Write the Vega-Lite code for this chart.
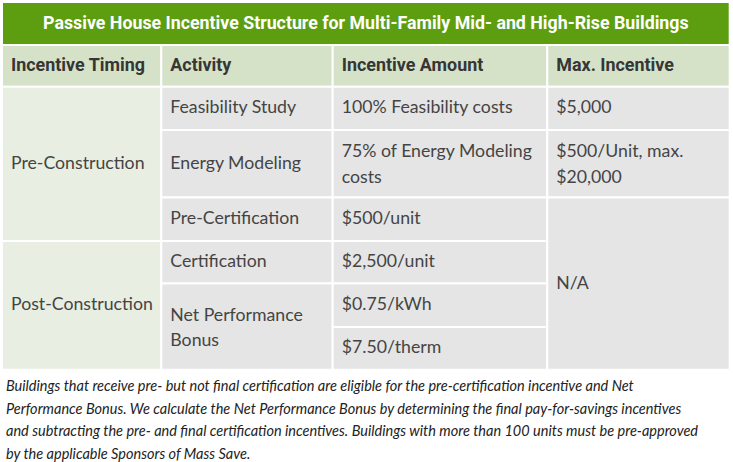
{
  "$schema": "https://vega.github.io/schema/vega-lite/v6.json",
  "width": 733,
  "height": 462,
  "autosize": {"type": "none"},
  "padding": 0,
  "background": "white",
  "config": {"view": {"stroke": null}},
  "datasets": {
    "cells": [
      {"kind": "title", "label": "Passive House Incentive Structure for Multi-Family Mid- and High-Rise Buildings", "c0": 0, "c1": 4, "r0": 0, "r1": 1},
      {"kind": "header", "label": "Incentive Timing", "c0": 0, "c1": 1, "r0": 1, "r1": 2},
      {"kind": "header", "label": "Activity", "c0": 1, "c1": 2, "r0": 1, "r1": 2},
      {"kind": "header", "label": "Incentive Amount", "c0": 2, "c1": 3, "r0": 1, "r1": 2},
      {"kind": "header", "label": "Max. Incentive", "c0": 3, "c1": 4, "r0": 1, "r1": 2},
      {"kind": "timing", "label": "Pre-Construction", "c0": 0, "c1": 1, "r0": 2, "r1": 5},
      {"kind": "timing", "label": "Post-Construction", "c0": 0, "c1": 1, "r0": 5, "r1": 8},
      {"kind": "body", "label": "Feasibility Study", "c0": 1, "c1": 2, "r0": 2, "r1": 3},
      {"kind": "body", "label": "Energy Modeling", "c0": 1, "c1": 2, "r0": 3, "r1": 4},
      {"kind": "body", "label": "Pre-Certification", "c0": 1, "c1": 2, "r0": 4, "r1": 5},
      {"kind": "body", "label": "Certification", "c0": 1, "c1": 2, "r0": 5, "r1": 6},
      {"kind": "body", "label": "Net Performance\nBonus", "c0": 1, "c1": 2, "r0": 6, "r1": 8},
      {"kind": "body", "label": "100% Feasibility costs", "c0": 2, "c1": 3, "r0": 2, "r1": 3},
      {"kind": "body", "label": "75% of Energy Modeling\ncosts", "c0": 2, "c1": 3, "r0": 3, "r1": 4},
      {"kind": "body", "label": "$500/unit", "c0": 2, "c1": 3, "r0": 4, "r1": 5},
      {"kind": "body", "label": "$2,500/unit", "c0": 2, "c1": 3, "r0": 5, "r1": 6},
      {"kind": "body", "label": "$0.75/kWh", "c0": 2, "c1": 3, "r0": 6, "r1": 7},
      {"kind": "body", "label": "$7.50/therm", "c0": 2, "c1": 3, "r0": 7, "r1": 8},
      {"kind": "body", "label": "$5,000", "c0": 3, "c1": 4, "r0": 2, "r1": 3},
      {"kind": "body", "label": "$500/Unit, max.\n$20,000", "c0": 3, "c1": 4, "r0": 3, "r1": 4},
      {"kind": "body", "label": "N/A", "c0": 3, "c1": 4, "r0": 4, "r1": 8}
    ],
    "note": [
      {"label": "Buildings that receive pre- but not final certification are eligible for the pre-certification incentive and Net\nPerformance Bonus. We calculate the Net Performance Bonus by determining the final pay-for-savings incentives\nand subtracting the pre- and final certification incentives. Buildings with more than 100 units must be pre-approved\nby the applicable Sponsors of Mass Save.", "c0": 0, "r0": 8}
    ]
  },
  "layer": [
    {
      "data": {"name": "cells"},
      "transform": [{"filter": "datum.kind === 'title'"}],
      "mark": {"type": "rect", "stroke": "white", "strokeWidth": 2},
      "encoding": {
        "x": {"field": "c0", "type": "quantitative", "axis": null, "scale": {"domain": [0, 4], "range": [2, 729.7], "nice": false, "zero": false}},
        "x2": {"field": "c1"},
        "y": {"field": "r0", "type": "quantitative", "axis": null, "scale": {"domain": [0, 1, 2, 3, 4, 5, 6, 7, 8, 9], "range": [2, 45, 86.7, 130, 197.5, 241, 283.5, 327, 369.7, 462], "nice": false, "zero": false}},
        "y2": {"field": "r1"},
        "fill": {"value": "#5c9e10"}
      }
    },
    {
      "data": {"name": "cells"},
      "transform": [
        {"filter": "datum.kind === 'title'"},
        {"calculate": "(datum.c0 + datum.c1) / 2", "as": "xm"},
        {"calculate": "(datum.r0 + datum.r1) / 2", "as": "ym"}
      ],
      "mark": {"type": "text", "align": "center", "baseline": "middle", "font": "Roboto", "fontWeight": "bold", "fontSize": 17.8, "color": "white"},
      "encoding": {
        "x": {"field": "xm", "type": "quantitative", "axis": null, "scale": {"domain": [0, 4], "range": [2, 729.7], "nice": false, "zero": false}},
        "y": {"field": "ym", "type": "quantitative", "axis": null},
        "text": {"field": "label", "type": "nominal"}
      }
    },
    {
      "data": {"name": "cells"},
      "transform": [{"filter": "datum.kind !== 'title'"}],
      "mark": {"type": "rect", "stroke": "white", "strokeWidth": 2},
      "encoding": {
        "x": {"field": "c0", "type": "quantitative", "axis": null, "scale": {"domain": [0, 1, 2, 3, 4], "range": [2, 161.3, 332.7, 547.3, 729.7], "nice": false, "zero": false}},
        "x2": {"field": "c1"},
        "y": {"field": "r0", "type": "quantitative", "axis": null},
        "y2": {"field": "r1"},
        "fill": {"field": "kind", "type": "nominal", "legend": null, "scale": {"domain": ["header", "timing", "body"], "range": ["#d5e2c8", "#e8eee1", "#e5e5e5"]}}
      }
    },
    {
      "data": {"name": "cells"},
      "transform": [
        {"filter": "datum.kind === 'header'"},
        {"calculate": "(datum.r0 + datum.r1) / 2", "as": "ym"}
      ],
      "mark": {"type": "text", "align": "left", "baseline": "middle", "dx": 9, "font": "Roboto", "fontWeight": "bold", "fontSize": 17.9, "color": "#363636"},
      "encoding": {
        "x": {"field": "c0", "type": "quantitative", "axis": null, "scale": {"domain": [0, 1, 2, 3, 4], "range": [2, 161.3, 332.7, 547.3, 729.7], "nice": false, "zero": false}},
        "y": {"field": "ym", "type": "quantitative", "axis": null},
        "text": {"field": "label", "type": "nominal"}
      }
    },
    {
      "data": {"name": "cells"},
      "transform": [
        {"filter": "(datum.kind === 'timing' || datum.kind === 'body') && !test(/\\n/, datum.label)"},
        {"calculate": "(datum.r0 + datum.r1) / 2", "as": "ym"}
      ],
      "mark": {"type": "text", "align": "left", "baseline": "middle", "dx": 9, "font": "Lato", "fontSize": 17.7, "color": "#444444"},
      "encoding": {
        "x": {"field": "c0", "type": "quantitative", "axis": null, "scale": {"domain": [0, 1, 2, 3, 4], "range": [2, 161.3, 332.7, 547.3, 729.7], "nice": false, "zero": false}},
        "y": {"field": "ym", "type": "quantitative", "axis": null},
        "text": {"field": "label", "type": "nominal"}
      }
    },
    {
      "data": {"name": "cells"},
      "transform": [
        {"filter": "(datum.kind === 'timing' || datum.kind === 'body') && test(/\\n/, datum.label)"},
        {"calculate": "(datum.r0 + datum.r1) / 2", "as": "ym"}
      ],
      "mark": {"type": "text", "align": "left", "baseline": "middle", "dx": 9, "dy": -11.5, "font": "Lato", "fontSize": 17.7, "color": "#444444", "lineBreak": "\n", "lineHeight": 25.5},
      "encoding": {
        "x": {"field": "c0", "type": "quantitative", "axis": null, "scale": {"domain": [0, 1, 2, 3, 4], "range": [2, 161.3, 332.7, 547.3, 729.7], "nice": false, "zero": false}},
        "y": {"field": "ym", "type": "quantitative", "axis": null},
        "text": {"field": "label", "type": "nominal"}
      }
    },
    {
      "data": {"name": "note"},
      "mark": {"type": "text", "align": "left", "baseline": "top", "dx": 4, "dy": 10.5, "font": "Lato", "fontStyle": "italic", "fontSize": 14.5, "color": "#222222", "lineBreak": "\n", "lineHeight": 22.6},
      "encoding": {
        "x": {"field": "c0", "type": "quantitative", "axis": null, "scale": {"domain": [0, 1, 2, 3, 4], "range": [2, 161.3, 332.7, 547.3, 729.7], "nice": false, "zero": false}},
        "y": {"field": "r0", "type": "quantitative", "axis": null},
        "text": {"field": "label", "type": "nominal"}
      }
    }
  ],
  "resolve": {"scale": {"x": "independent"}}
}
